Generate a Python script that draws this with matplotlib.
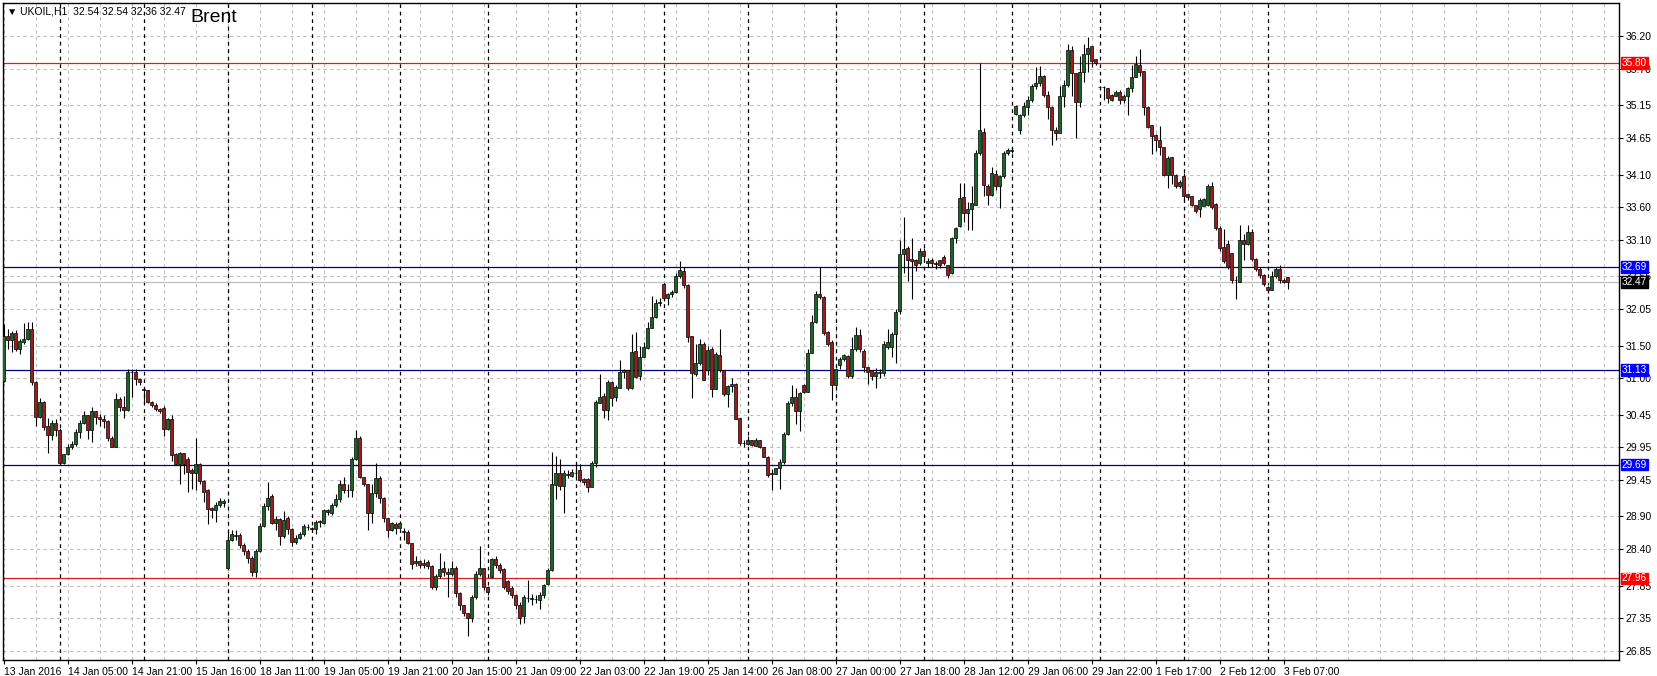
import matplotlib.pyplot as plt
import numpy as np
from matplotlib.transforms import blended_transform_factory

# hourly UKOIL candles, 13 Jan - 3 Feb 2016
opens = [
    30.96, 31.65, 31.58, 31.69, 31.45, 31.55, 31.60, 31.75, 30.94, 30.42,
    30.64, 30.28, 30.14, 30.32, 30.22, 29.72, 29.85, 29.95, 30.00, 30.18,
    30.32, 30.44, 30.21, 30.50, 30.42, 30.38, 30.35, 30.10, 29.96, 30.69,
    30.56, 30.52, 31.09, 31.10, 30.99, 30.84, 30.82, 30.64, 30.60, 30.54,
    30.55, 30.23, 30.38, 29.85, 29.70, 29.86, 29.78, 29.60, 29.56, 29.70,
    29.44, 29.30, 29.03, 29.00, 29.07, 29.10, 28.12, 28.54, 28.62, 28.62,
    28.47, 28.38, 28.27, 28.05, 28.38, 28.76, 29.06, 29.21, 28.80, 28.86,
    28.60, 28.88, 28.71, 28.51, 28.58, 28.63, 28.74, 28.72, 28.71, 28.82,
    28.80, 29.00, 28.95, 29.07, 29.16, 29.40, 29.30, 29.31, 29.78, 30.10,
    29.50, 29.40, 28.96, 29.25, 29.48, 29.18, 28.87, 28.70, 28.79, 28.72,
    28.67, 28.66, 28.50, 28.20, 28.22, 28.17, 28.21, 28.15, 27.83, 27.99,
    28.11, 28.06, 28.02, 28.11, 27.73, 27.55, 27.43, 27.35, 27.67, 28.03,
    28.12, 27.83, 27.98, 28.26, 28.16, 28.10, 27.92, 27.82, 27.71, 27.56,
    27.38, 27.66, 27.65, 27.64, 27.63, 27.70, 27.88, 28.09, 29.38, 29.56,
    29.36, 29.54, 29.51, 29.56, 29.60, 29.47, 29.47, 29.35, 29.71, 30.62,
    30.73, 30.52, 30.94, 30.72, 30.85, 31.10, 31.12, 30.85, 31.42, 31.04,
    31.33, 31.46, 31.76, 31.94, 32.14, 32.43, 32.22, 32.29, 32.32, 32.56,
    32.63, 32.42, 31.65, 31.07, 31.23, 31.53, 31.12, 31.45, 30.84, 31.35,
    31.13, 30.77, 30.88, 30.92, 30.40, 30.01, 30.00, 30.06, 29.97, 30.07,
    29.95, 29.81, 29.55, 29.55, 29.63, 29.73, 30.15, 30.62, 30.72, 30.51,
    30.90, 30.80, 31.38, 31.86, 32.28, 32.24, 31.70, 31.55, 30.90, 31.20,
    31.29, 31.34, 31.03, 31.44, 31.66, 31.41, 31.18, 31.12, 31.04, 31.09,
    31.08, 31.48, 31.47, 31.68, 32.03, 32.89, 32.98, 32.81, 32.80, 32.75,
    32.93, 32.75, 32.80, 32.75, 32.80, 32.85, 32.72, 32.60, 33.13, 33.31,
    33.76, 33.51, 33.57, 33.64, 34.42, 34.74, 33.93, 33.79, 34.11, 33.92,
    34.07, 34.43, 34.45, 35.02, 34.78, 35.00, 35.12, 35.23, 35.44, 35.49,
    35.60, 35.31, 35.13, 34.78, 34.73, 35.29, 35.46, 35.99, 35.64, 35.21,
    35.66, 35.93, 36.05, 35.86, 35.43, 35.43, 35.42, 35.31, 35.30, 35.36,
    35.23, 35.29, 35.41, 35.59, 35.76, 35.67, 35.13, 34.85, 34.70, 34.62,
    34.52, 34.09, 34.36, 34.09, 33.92, 34.08, 33.81, 33.77, 33.63, 33.57,
    33.62, 33.63, 33.92, 33.65, 33.28, 33.00, 33.05, 32.90, 32.49, 32.47,
    33.10, 33.04, 33.23, 32.81, 32.67, 32.57, 32.39, 32.35, 32.55, 32.67,
    32.50, 32.54,
]
highs = [
    31.82, 31.75, 31.72, 31.73, 31.60, 31.84, 31.85, 31.85, 30.96, 30.70,
    30.66, 30.40, 30.36, 30.38, 30.24, 29.85, 30.00, 30.05, 30.23, 30.36,
    30.50, 30.45, 30.56, 30.51, 30.46, 30.44, 30.36, 30.12, 30.78, 30.71,
    30.73, 31.15, 31.15, 31.15, 31.00, 30.86, 30.83, 30.65, 30.62, 30.55,
    30.58, 30.40, 30.45, 29.86, 29.88, 29.87, 29.80, 29.64, 30.10, 29.72,
    29.46, 29.32, 29.05, 29.12, 29.18, 29.16, 28.68, 28.70, 28.70, 28.65,
    28.50, 28.40, 28.30, 28.40, 28.80, 29.10, 29.42, 29.24, 28.90, 28.88,
    28.98, 28.90, 28.73, 28.62, 28.66, 28.78, 28.78, 28.74, 28.84, 28.85,
    29.02, 29.01, 29.10, 29.24, 29.46, 29.50, 29.40, 29.80, 30.21, 30.12,
    29.50, 29.40, 29.40, 29.71, 29.52, 29.19, 28.88, 28.82, 28.82, 28.83,
    28.72, 28.70, 28.50, 28.30, 28.24, 28.25, 28.24, 28.17, 28.03, 28.35,
    28.22, 28.12, 28.23, 28.14, 27.75, 27.56, 27.43, 27.70, 28.07, 28.45,
    28.12, 27.84, 28.27, 28.30, 28.20, 28.11, 27.94, 27.84, 27.72, 27.60,
    27.70, 27.93, 27.72, 27.70, 27.75, 27.88, 28.12, 29.88, 29.82, 29.78,
    29.60, 29.60, 29.62, 29.70, 29.70, 29.48, 29.48, 29.74, 30.67, 31.06,
    30.78, 30.98, 30.96, 30.90, 31.28, 31.14, 31.12, 31.68, 31.70, 31.50,
    31.56, 31.85, 32.26, 32.20, 32.22, 32.44, 32.30, 32.34, 32.60, 32.78,
    32.70, 32.43, 31.65, 31.53, 31.60, 31.55, 31.50, 31.47, 31.40, 31.75,
    31.13, 30.90, 31.00, 30.93, 30.40, 30.07, 30.12, 30.06, 30.09, 30.07,
    29.95, 29.82, 29.62, 29.64, 29.78, 30.18, 30.65, 30.90, 30.86, 30.80,
    30.92, 31.45, 31.96, 32.33, 32.69, 32.25, 31.72, 31.58, 31.16, 31.33,
    31.37, 31.36, 31.63, 31.78, 31.75, 31.44, 31.18, 31.12, 31.16, 31.15,
    31.57, 31.75, 31.70, 32.05, 33.10, 33.45, 33.01, 33.14, 32.82, 32.99,
    32.99, 32.83, 32.83, 32.79, 32.80, 32.88, 32.73, 33.15, 33.30, 33.97,
    33.97, 33.68, 33.93, 34.47, 35.80, 34.80, 33.95, 34.22, 34.17, 34.10,
    34.46, 34.51, 34.52, 35.16, 35.02, 35.20, 35.30, 35.47, 35.73, 35.75,
    35.62, 35.37, 35.14, 34.82, 35.44, 35.53, 36.08, 36.05, 35.65, 35.90,
    36.08, 36.19, 36.05, 35.86, 35.44, 35.45, 35.42, 35.33, 35.39, 35.38,
    35.32, 35.43, 35.77, 35.90, 36.01, 35.68, 35.14, 34.85, 34.71, 34.84,
    34.52, 34.38, 34.36, 34.11, 34.01, 34.12, 33.81, 33.77, 33.63, 33.74,
    33.75, 33.95, 33.98, 33.66, 33.32, 33.27, 33.10, 32.90, 32.55, 33.33,
    33.20, 33.33, 33.27, 32.83, 32.70, 32.58, 32.40, 32.63, 32.70, 32.72,
    32.52, 32.54,
]
lows = [
    30.94, 31.44, 31.40, 31.42, 31.37, 31.52, 31.58, 30.90, 30.28, 30.40,
    30.22, 29.86, 30.06, 30.12, 29.70, 29.70, 29.84, 29.92, 29.97, 30.10,
    30.30, 30.08, 30.04, 30.30, 30.28, 30.25, 30.05, 29.96, 29.96, 30.50,
    30.40, 30.50, 30.72, 30.90, 30.90, 30.62, 30.62, 30.57, 30.50, 30.47,
    30.12, 30.22, 29.75, 29.68, 29.40, 29.55, 29.27, 29.32, 29.30, 29.40,
    29.12, 28.79, 28.87, 28.82, 29.05, 29.05, 28.10, 28.52, 28.55, 28.42,
    28.32, 28.20, 28.00, 27.98, 28.36, 28.74, 29.00, 28.78, 28.70, 28.47,
    28.58, 28.64, 28.45, 28.48, 28.56, 28.60, 28.70, 28.68, 28.64, 28.74,
    28.78, 28.92, 28.93, 29.05, 29.12, 29.25, 29.20, 29.20, 29.76, 29.48,
    29.36, 28.70, 28.80, 29.20, 29.10, 28.82, 28.59, 28.68, 28.64, 28.72,
    28.54, 28.48, 28.10, 28.15, 28.12, 28.12, 28.10, 27.80, 27.78, 27.96,
    28.00, 27.67, 28.00, 27.68, 27.48, 27.38, 27.08, 27.30, 27.65, 28.00,
    27.78, 27.70, 27.96, 28.12, 28.04, 27.80, 27.72, 27.66, 27.50, 27.26,
    27.28, 27.60, 27.55, 27.58, 27.50, 27.66, 27.86, 28.07, 29.16, 29.30,
    28.96, 29.48, 29.50, 29.50, 29.43, 29.38, 29.28, 29.35, 29.66, 30.62,
    30.40, 30.36, 30.58, 30.66, 30.85, 31.00, 30.82, 30.84, 31.00, 30.98,
    31.32, 31.44, 31.76, 31.92, 32.10, 32.18, 32.12, 32.24, 32.30, 32.52,
    32.38, 31.56, 30.70, 31.04, 31.21, 30.97, 31.05, 30.71, 30.84, 31.10,
    30.73, 30.57, 30.80, 30.38, 29.99, 29.95, 29.98, 29.97, 29.97, 29.94,
    29.80, 29.50, 29.30, 29.54, 29.32, 29.70, 30.14, 30.58, 30.30, 30.20,
    30.78, 30.80, 31.38, 31.84, 32.20, 31.66, 31.50, 30.67, 30.88, 31.14,
    31.27, 31.00, 31.00, 31.42, 31.40, 31.10, 30.92, 30.97, 30.85, 31.00,
    31.04, 31.44, 31.33, 31.24, 31.98, 32.60, 32.48, 32.20, 32.63, 32.72,
    32.80, 32.70, 32.70, 32.66, 32.68, 32.72, 32.53, 32.58, 33.06, 33.30,
    33.38, 33.25, 33.26, 33.63, 34.40, 33.77, 33.64, 33.77, 33.86, 33.59,
    34.05, 34.40, 34.43, 35.00, 34.72, 34.98, 35.00, 35.20, 35.40, 35.44,
    35.28, 34.95, 34.55, 34.62, 34.73, 35.12, 35.43, 35.30, 34.65, 35.12,
    35.50, 35.66, 35.74, 35.77, 35.42, 35.24, 35.19, 35.22, 35.30, 35.17,
    35.18, 35.00, 35.36, 35.58, 35.60, 35.01, 34.80, 34.41, 34.45, 34.40,
    34.07, 33.90, 33.96, 33.90, 33.90, 33.70, 33.72, 33.62, 33.52, 33.46,
    33.62, 33.62, 33.58, 33.26, 32.93, 32.76, 32.67, 32.45, 32.21, 32.47,
    32.80, 33.03, 32.78, 32.64, 32.53, 32.41, 32.30, 32.35, 32.52, 32.45,
    32.45, 32.36,
]
closes = [
    31.65, 31.58, 31.69, 31.45, 31.57, 31.60, 31.75, 30.94, 30.42, 30.64,
    30.26, 30.14, 30.32, 30.22, 29.72, 29.85, 29.95, 30.00, 30.18, 30.32,
    30.44, 30.21, 30.50, 30.42, 30.38, 30.35, 30.10, 29.96, 30.69, 30.56,
    30.52, 31.09, 31.10, 30.99, 30.95, 30.82, 30.64, 30.60, 30.54, 30.50,
    30.23, 30.38, 29.83, 29.70, 29.86, 29.70, 29.58, 29.56, 29.70, 29.44,
    29.28, 29.02, 29.00, 29.07, 29.13, 29.13, 28.55, 28.64, 28.61, 28.46,
    28.38, 28.27, 28.05, 28.38, 28.76, 29.06, 29.18, 28.80, 28.86, 28.60,
    28.85, 28.71, 28.51, 28.58, 28.63, 28.75, 28.74, 28.71, 28.82, 28.82,
    29.00, 28.97, 29.07, 29.16, 29.40, 29.30, 29.31, 29.77, 30.10, 29.50,
    29.40, 28.96, 29.25, 29.48, 29.18, 28.87, 28.70, 28.80, 28.72, 28.80,
    28.67, 28.50, 28.18, 28.22, 28.17, 28.20, 28.15, 27.83, 27.99, 28.10,
    28.05, 28.02, 28.11, 27.73, 27.55, 27.43, 27.35, 27.67, 28.03, 28.12,
    27.83, 27.75, 28.25, 28.16, 28.08, 27.83, 27.77, 27.71, 27.55, 27.35,
    27.68, 27.66, 27.65, 27.64, 27.70, 27.86, 28.09, 29.40, 29.56, 29.36,
    29.56, 29.53, 29.58, 29.56, 29.45, 29.42, 29.35, 29.71, 30.64, 30.72,
    30.52, 30.95, 30.70, 30.87, 31.09, 31.12, 30.85, 31.40, 31.02, 31.33,
    31.47, 31.76, 31.94, 32.14, 32.16, 32.22, 32.29, 32.32, 32.56, 32.65,
    32.42, 31.63, 31.08, 31.23, 31.53, 30.97, 31.43, 30.84, 31.37, 31.13,
    30.77, 30.88, 30.92, 30.39, 30.01, 30.02, 30.06, 29.99, 30.07, 29.95,
    29.81, 29.53, 29.56, 29.63, 29.73, 30.15, 30.62, 30.72, 30.51, 30.78,
    30.80, 31.38, 31.86, 32.28, 32.24, 31.69, 31.53, 30.90, 31.15, 31.29,
    31.35, 31.03, 31.44, 31.66, 31.44, 31.18, 31.10, 31.04, 31.10, 31.08,
    31.53, 31.55, 31.67, 32.01, 32.89, 32.96, 32.80, 32.78, 32.72, 32.93,
    32.86, 32.79, 32.75, 32.74, 32.72, 32.76, 32.57, 33.13, 33.28, 33.74,
    33.51, 33.57, 33.66, 34.42, 34.78, 33.94, 33.79, 34.12, 33.92, 34.07,
    34.43, 34.47, 34.48, 35.14, 35.00, 35.14, 35.23, 35.44, 35.49, 35.60,
    35.31, 35.13, 34.78, 34.73, 35.29, 35.46, 35.99, 35.64, 35.21, 35.66,
    35.93, 36.02, 35.82, 35.80, 35.43, 35.43, 35.27, 35.24, 35.36, 35.23,
    35.29, 35.41, 35.59, 35.78, 35.66, 35.13, 34.83, 34.68, 34.62, 34.52,
    34.09, 34.35, 34.09, 33.92, 33.99, 33.77, 33.76, 33.64, 33.55, 33.71,
    33.73, 33.93, 33.61, 33.28, 32.98, 32.79, 32.70, 32.49, 32.49, 33.10,
    33.05, 33.23, 32.81, 32.67, 32.57, 32.44, 32.35, 32.55, 32.67, 32.50,
    32.47, 32.47,
]

# bar index where each trading day starts (period separators)
day_starts = [14, 35, 56, 77, 99, 121, 143, 165, 186, 208, 230, 252, 274, 295, 316]

time_labels = ['13 Jan 2016', '14 Jan 05:00', '14 Jan 21:00', '15 Jan 16:00', '18 Jan 11:00',
               '19 Jan 05:00', '19 Jan 21:00', '20 Jan 15:00', '21 Jan 09:00', '22 Jan 03:00',
               '22 Jan 19:00', '25 Jan 14:00', '26 Jan 08:00', '27 Jan 00:00', '27 Jan 18:00',
               '28 Jan 12:00', '29 Jan 06:00', '29 Jan 22:00', '1 Feb 17:00', '2 Feb 12:00',
               '3 Feb 07:00']
price_ticks = [26.85, 27.35, 27.85, 28.40, 28.90, 29.45, 29.95, 30.45, 31.00, 31.50,
               32.05, 32.55, 33.10, 33.60, 34.10, 34.65, 35.15, 35.70, 36.20]

red_levels = [35.80, 27.96]
blue_levels = [32.69, 31.13, 29.69]
bid = 32.47

o = np.array(opens)
h = np.array(highs)
l = np.array(lows)
c = np.array(closes)
x = np.arange(len(c))

plt.rcParams['font.family'] = ['Liberation Sans', 'DejaVu Sans']

fig = plt.figure(figsize=(16.58, 6.76), dpi=100)
ax = fig.add_axes([2.7 / 1658, 16 / 676, 1616 / 1658, 657 / 676])

ax.set_xlim(-0.3, 403.8)
ax.set_ylim(26.718, 36.708)

# grid
for p in price_ticks:
    ax.axhline(p, color='#c0c0c0', linewidth=0.8, linestyle=(0, (3, 3)), zorder=0)
for gx in range(0, 404, 8):
    ax.axvline(gx, color='#c0c0c0', linewidth=0.8, linestyle=(0, (3, 3)), zorder=0)
for d in day_starts:
    ax.axvline(d, color='black', linewidth=0.9, linestyle=(0, (3, 3)), zorder=1)

# levels
for p in red_levels:
    ax.axhline(p, color='#d42020', linewidth=0.9, zorder=2)
for p in blue_levels:
    ax.axhline(p, color='#00008b', linewidth=0.9, zorder=2)
ax.axhline(bid, color='#c0c0c0', linewidth=0.9, zorder=2)

# candles
up = c >= o
ax.vlines(x, l, h, color='black', linewidth=0.8, zorder=3)
body = np.maximum(np.abs(c - o), 0.006)
bottom = np.minimum(o, c)
ax.bar(x[up], body[up], bottom=bottom[up], width=0.75, color='#1b6529',
       edgecolor='black', linewidth=0.5, zorder=4)
ax.bar(x[~up], body[~up], bottom=bottom[~up], width=0.75, color='#9e1c1c',
       edgecolor='black', linewidth=0.5, zorder=4)

# axes and ticks
ax.yaxis.tick_right()
ax.set_yticks(price_ticks)
ax.set_yticklabels(['%.2f' % p for p in price_ticks])
ax.set_xticks(np.arange(0, 16 * len(time_labels), 16))
ax.set_xticklabels(time_labels)
for lbl in ax.get_xticklabels():
    lbl.set_ha('left')
ax.tick_params(axis='y', direction='out', length=3, labelsize=7.5, pad=2)
ax.tick_params(axis='x', direction='out', length=3, labelsize=7.5, pad=2)
for s in ax.spines.values():
    s.set_linewidth(1)

# price tags on the right scale
tr = blended_transform_factory(ax.transAxes, ax.transData)
tags = [(p, '#ff0000') for p in red_levels] + [(p, '#0000ff') for p in blue_levels] + [(bid, 'black')]
for p, col in tags:
    ax.text(1.002, p, '%.2f' % p, transform=tr, color='white', fontsize=7.2,
            va='center', ha='left', clip_on=False, zorder=10,
            bbox=dict(boxstyle='square,pad=0.08', facecolor=col, edgecolor=col))

fig.text(7 / 1658, 1 - 11 / 676, '\u25bc UKOIL,H1  32.54 32.54 32.36 32.47', fontsize=7.5,
         va='center', ha='left')
fig.text(190 / 1658, 1 - 18 / 676, 'Brent', fontsize=14, va='center', ha='left')

fig.savefig('out.png', dpi=100)
